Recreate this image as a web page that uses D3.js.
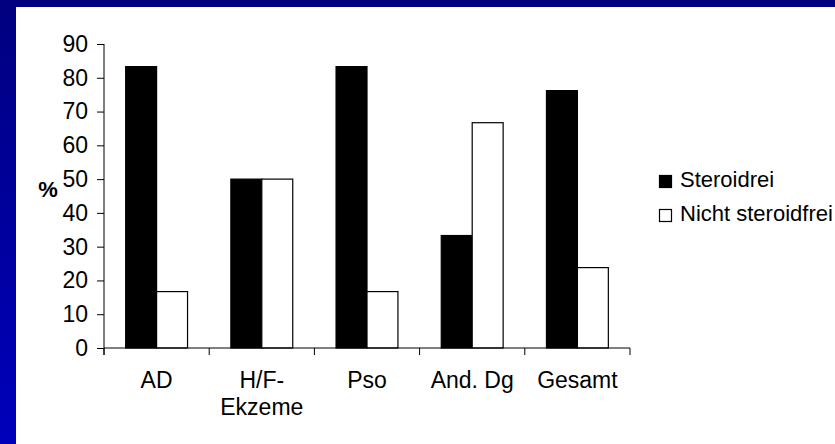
<!DOCTYPE html>
<html>
<head>
<meta charset="utf-8">
<script src="https://cdn.jsdelivr.net/npm/d3@7"></script>
<style>
  html, body { margin: 0; padding: 0; background: #fff; }
  svg { display: block; }
  text { font-family: Arial, "Liberation Sans", sans-serif; fill: #000; }
</style>
</head>
<body>
<svg id="chart" width="835" height="444"></svg>
<script>
// Share of patients per diagnosis group (%)
const categories = [["AD"], ["H/F-", "Ekzeme"], ["Pso"], ["And. Dg"], ["Gesamt"]];
const seriesNames = ["Steroidrei", "Nicht steroidfrei"];
const steroidfrei = [83.3, 50, 83.3, 33.3, 76.2];
const nichtSteroidfrei = [16.7, 50, 16.7, 66.7, 23.8];
const yTicks = [0, 10, 20, 30, 40, 50, 60, 70, 80, 90];

const svg = d3.select("#chart");
const W = 835, H = 444;
const AXIS_FONT = "23px";
const LEGEND_FONT = "22px";

// slide frame: dark blue bands on top and left
const defs = svg.append("defs");
const grad = defs.append("linearGradient").attr("id", "frameGrad")
  .attr("x1", 0).attr("y1", 0).attr("x2", 0).attr("y2", 1);
grad.append("stop").attr("offset", "0%").attr("stop-color", "#000080");
grad.append("stop").attr("offset", "100%").attr("stop-color", "#0000BC");
svg.append("rect").attr("x", 0).attr("y", 0).attr("width", W).attr("height", H).attr("fill", "#fff");
svg.append("rect").attr("x", 0).attr("y", 0).attr("width", 16).attr("height", H).attr("fill", "url(#frameGrad)");
svg.append("rect").attr("x", 0).attr("y", 0).attr("width", W).attr("height", 7).attr("fill", "#000080");

const plot = { left: 104, right: 630, top: 44, bottom: 348 };

const x0 = d3.scaleBand()
  .domain(d3.range(categories.length))
  .range([plot.left, plot.right])
  .paddingInner(0).paddingOuter(0);

const x1 = d3.scaleBand()
  .domain(seriesNames)
  .range([0, x0.bandwidth()])
  .paddingInner(0)
  .paddingOuter(0.7);

const y = d3.scaleLinear().domain([0, 90]).range([plot.bottom, plot.top]);

const rows = categories.map((c, i) => ({
  i,
  values: [
    { key: seriesNames[0], v: steroidfrei[i], fill: "#000" },
    { key: seriesNames[1], v: nichtSteroidfrei[i], fill: "#fff" }
  ]
}));

// bars
const groups = svg.append("g").selectAll("g").data(rows).join("g")
  .attr("transform", d => `translate(${x0(d.i)},0)`);
groups.selectAll("rect").data(d => d.values).join("rect")
  .attr("x", d => x1(d.key))
  .attr("y", d => y(d.v))
  .attr("width", x1.bandwidth())
  .attr("height", d => y(0) - y(d.v))
  .attr("fill", d => d.fill)
  .attr("stroke", "#000")
  .attr("stroke-width", 1.2);

// y axis
const yAxis = d3.axisLeft(y).tickValues(yTicks).tickSize(7).tickPadding(9).tickFormat(d3.format("d"));
const gy = svg.append("g").attr("transform", `translate(${plot.left},0)`).call(yAxis);
gy.select(".domain").attr("d", `M0,${plot.top}V${plot.bottom + 7}`).attr("stroke", "#000");
gy.selectAll(".tick line").attr("stroke", "#000");
gy.selectAll(".tick text").style("font-size", AXIS_FONT).style("font-family", "Arial, 'Liberation Sans', sans-serif");

// x axis with ticks at category boundaries
const gx = svg.append("g").attr("transform", `translate(0,${plot.bottom})`);
gx.append("line").attr("x1", plot.left).attr("x2", plot.right).attr("y1", 0).attr("y2", 0).attr("stroke", "#000");
const bounds = d3.range(categories.length + 1).map(i => i < categories.length ? x0(i) : plot.right);
gx.selectAll("line.tk").data(bounds).join("line").attr("class", "tk")
  .attr("x1", d => d).attr("x2", d => d).attr("y1", 0).attr("y2", 7).attr("stroke", "#000");

// category labels (multi-line)
const lab = svg.append("g").selectAll("text").data(categories).join("text")
  .attr("text-anchor", "middle")
  .attr("x", (d, i) => x0(i) + x0.bandwidth() / 2)
  .attr("y", 388)
  .style("font-size", AXIS_FONT);
lab.selectAll("tspan").data(d => d).join("tspan")
  .attr("x", function () { return d3.select(this.parentNode).attr("x"); })
  .attr("dy", (d, j) => j === 0 ? 0 : 27)
  .text(d => d);

// axis title
svg.append("text").attr("x", 48).attr("y", 197).attr("text-anchor", "middle")
  .style("font-size", LEGEND_FONT).style("font-weight", "bold").text("%");

// legend
const legend = svg.append("g").selectAll("g").data(seriesNames).join("g")
  .attr("transform", (d, i) => `translate(659,${175 + i * 34})`);
legend.append("rect").attr("x", 0.5).attr("y", 0.5).attr("width", 12).attr("height", 12)
  .attr("fill", (d, i) => i === 0 ? "#000" : "#fff").attr("stroke", "#000").attr("stroke-width", 1.2);
legend.append("text").attr("x", 21).attr("y", 12).style("font-size", LEGEND_FONT).text(d => d);
</script>
</body>
</html>
